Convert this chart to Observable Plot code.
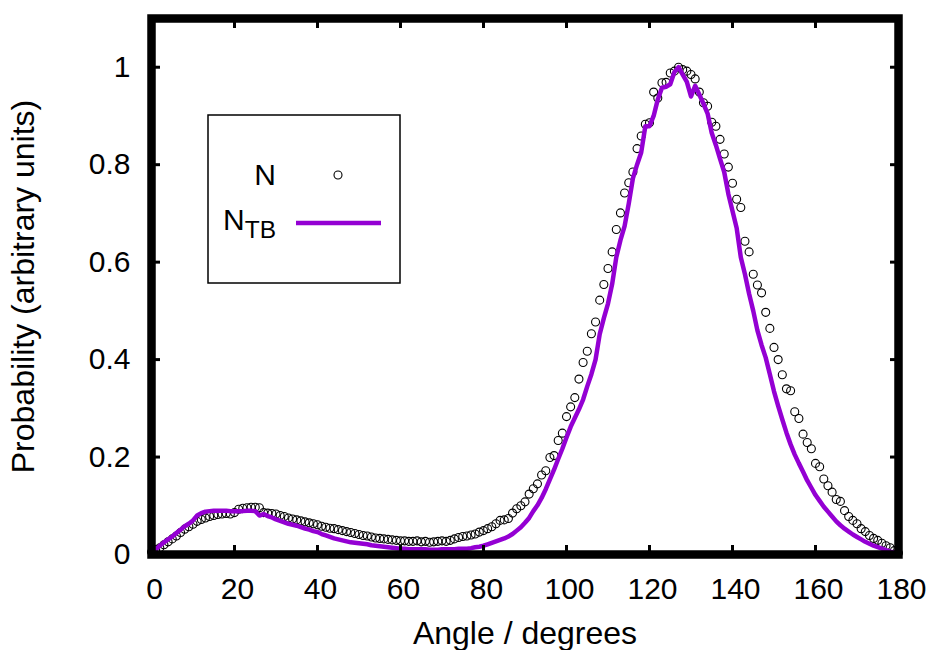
<!DOCTYPE html>
<html><head><meta charset="utf-8">
<script src="https://cdn.jsdelivr.net/npm/d3@7"></script>
<script src="https://cdn.jsdelivr.net/npm/@observablehq/plot@0.6"></script>
<style>
html,body{margin:0;padding:0;background:#fff;}
#chart{position:relative;width:930px;height:650px;}
</style></head><body><div id="chart"></div>
<script>
const angles = d3.range(0, 181); // 1-degree grid, 0..180
const nValues = [
0.005,0.010,0.014,0.020,0.026,0.032,0.038,0.045,0.052,0.057,
0.062,0.068,0.072,0.075,0.078,0.080,0.082,0.083,0.084,0.083,
0.086,0.093,0.095,0.096,0.097,0.097,0.096,0.086,0.085,0.084,
0.083,0.080,0.078,0.075,0.073,0.071,0.069,0.067,0.065,0.063,
0.061,0.058,0.056,0.054,0.053,0.051,0.049,0.047,0.045,0.043,
0.041,0.039,0.038,0.036,0.034,0.033,0.032,0.031,0.030,0.029,
0.028,0.028,0.027,0.027,0.028,0.026,0.027,0.025,0.026,0.027,
0.028,0.027,0.029,0.032,0.035,0.037,0.038,0.040,0.042,0.046,
0.049,0.053,0.057,0.063,0.070,0.071,0.074,0.085,0.094,0.100,
0.108,0.124,0.135,0.145,0.163,0.172,0.199,0.203,0.234,0.249,
0.283,0.303,0.322,0.360,0.394,0.417,0.453,0.477,0.522,0.554,
0.587,0.621,0.667,0.701,0.742,0.763,0.785,0.833,0.859,0.883,
0.886,0.949,0.937,0.968,0.969,0.988,0.992,1.000,0.995,0.992,
0.985,0.976,0.949,0.927,0.920,0.887,0.879,0.852,0.822,0.795,
0.762,0.729,0.712,0.643,0.621,0.575,0.553,0.537,0.497,0.464,
0.425,0.400,0.369,0.340,0.336,0.293,0.279,0.247,0.230,0.217,
0.187,0.180,0.155,0.141,0.128,0.113,0.109,0.090,0.078,0.070,
0.063,0.053,0.047,0.039,0.033,0.029,0.023,0.018,0.014,0.008,
0.003];
const ntbValues = [
0.003,0.010,0.018,0.025,0.031,0.037,0.044,0.051,0.058,0.063,
0.070,0.080,0.085,0.088,0.089,0.090,0.090,0.090,0.090,0.089,
0.089,0.089,0.089,0.090,0.090,0.089,0.080,0.083,0.079,0.076,
0.072,0.069,0.066,0.063,0.061,0.059,0.056,0.053,0.051,0.048,
0.046,0.042,0.039,0.036,0.033,0.031,0.029,0.027,0.025,0.024,
0.023,0.022,0.021,0.019,0.018,0.017,0.016,0.015,0.014,0.013,
0.012,0.012,0.011,0.011,0.011,0.011,0.011,0.010,0.010,0.010,
0.011,0.011,0.011,0.011,0.012,0.012,0.012,0.013,0.015,0.016,
0.018,0.021,0.024,0.027,0.030,0.033,0.037,0.042,0.049,0.056,
0.065,0.075,0.089,0.101,0.116,0.134,0.154,0.174,0.196,0.217,
0.240,0.262,0.280,0.298,0.318,0.345,0.370,0.400,0.452,0.485,
0.515,0.555,0.610,0.645,0.674,0.720,0.772,0.800,0.825,0.879,
0.879,0.900,0.934,0.958,0.960,0.965,0.990,1.000,0.985,0.970,
0.940,0.962,0.944,0.925,0.905,0.865,0.840,0.812,0.785,0.740,
0.705,0.670,0.610,0.575,0.535,0.500,0.460,0.430,0.404,0.370,
0.335,0.305,0.277,0.250,0.226,0.205,0.187,0.170,0.152,0.137,
0.122,0.110,0.098,0.088,0.078,0.068,0.060,0.053,0.047,0.041,
0.036,0.031,0.026,0.022,0.018,0.015,0.012,0.009,0.006,0.004,
0.002];
const xTicks = [0,20,40,60,80,100,120,140,160,180];
const yTicks = [0,0.2,0.4,0.6,0.8,1];
const yTickLabels = ["0","0.2","0.4","0.6","0.8","1"];
const xLabel = "Angle / degrees";
const yLabel = "Probability (arbitrary units)";
const legendMain = "N";
const legendSub = "TB";

const dataN = angles.map((a, i) => ({angle: a, p: nValues[i]}));
const dataTB = angles.map((a, i) => ({angle: a, p: ntbValues[i]}));

const font = "'Liberation Sans', Arial, Helvetica, sans-serif";
const purple = "#9400d3";

const chart = Plot.plot({
  width: 930, height: 650,
  marginLeft: 151, marginRight: 32, marginTop: 18, marginBottom: 96,
  style: {fontFamily: font, fontSize: "30px", background: "#fff", color: "#000", overflow: "visible"},
  x: {domain: [0, 180]},
  y: {domain: [0, 1.1]},
  marks: [
    Plot.dot(dataN, {x: "angle", y: "p", r: 4, stroke: "#000", strokeWidth: 1.1, fill: "none"}),
    Plot.line(dataTB, {x: "angle", y: "p", stroke: purple, strokeWidth: 4.5}),
    Plot.axisX({anchor: "bottom", ticks: xTicks, tickSize: 0, tickPadding: 23, tickFormat: d => String(d), label: null, fontSize: 30, dx: 3}),
    Plot.axisX({anchor: "bottom", ticks: xTicks, tickSize: 9, insetBottom: 9, tickFormat: () => "", label: null, strokeWidth: 3}),
    Plot.axisX({anchor: "top", ticks: xTicks, tickSize: 9, insetTop: 9, tickFormat: () => "", label: null, strokeWidth: 3}),
    Plot.axisY({anchor: "left", ticks: yTicks, tickSize: 0, tickPadding: 21, tickFormat: d => yTickLabels[yTicks.indexOf(d)], label: null, fontSize: 30}),
    Plot.axisY({anchor: "left", ticks: yTicks, tickSize: 9, insetLeft: 9, tickFormat: () => "", label: null, strokeWidth: 3}),
    Plot.axisY({anchor: "right", ticks: yTicks, tickSize: 9, insetRight: 9, tickFormat: () => "", label: null, strokeWidth: 3}),
    Plot.frame({stroke: "#000", strokeWidth: 8.5}),
    Plot.text([xLabel], {frameAnchor: "bottom", textAnchor: "middle", lineAnchor: "top", dy: 67, fontSize: 32}),
    Plot.text([yLabel], {frameAnchor: "left", textAnchor: "middle", rotate: -90, lineAnchor: "top", dx: -140, fontSize: 32})
  ]
});
document.getElementById("chart").appendChild(chart);

// legend (key box) inside plot area
const svg = d3.select(chart);
const lg = svg.append("g").attr("font-family", font);
lg.append("rect").attr("x", 208).attr("y", 115).attr("width", 192).attr("height", 168)
  .attr("fill", "#fff").attr("stroke", "#000").attr("stroke-width", 1.5);
lg.append("text").attr("x", 276).attr("y", 185).attr("text-anchor", "end").attr("font-size", 30).text(legendMain);
lg.append("circle").attr("cx", 338).attr("cy", 175).attr("r", 4).attr("fill", "none").attr("stroke", "#000").attr("stroke-width", 1.1);
const t2 = lg.append("text").attr("x", 276).attr("y", 230).attr("text-anchor", "end").attr("font-size", 30);
t2.append("tspan").text(legendMain);
t2.append("tspan").attr("font-size", 24.5).attr("dy", 8).text(legendSub);
lg.append("line").attr("x1", 296).attr("x2", 381).attr("y1", 223).attr("y2", 223)
  .attr("stroke", purple).attr("stroke-width", 4.5);
</script></body></html>
